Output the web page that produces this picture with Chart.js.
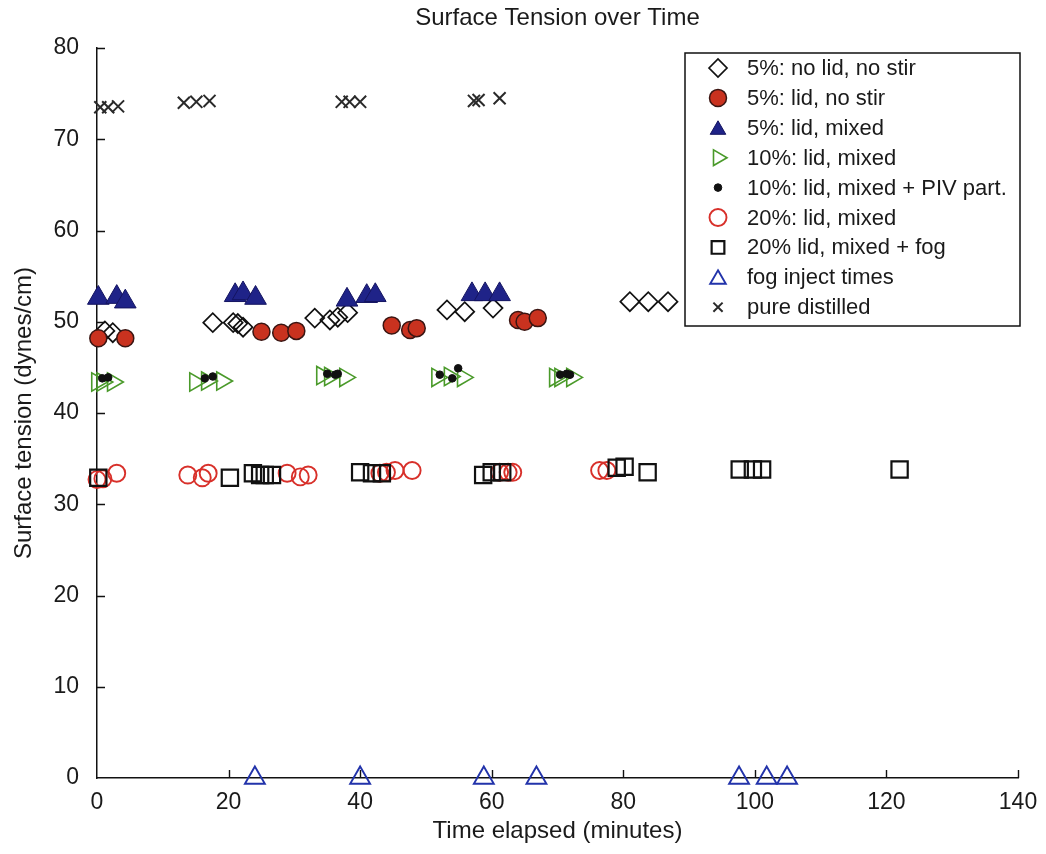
<!DOCTYPE html>
<html>
<head>
<meta charset="utf-8">
<script src="https://cdn.jsdelivr.net/npm/chart.js@4.4.1/dist/chart.umd.min.js"></script>
<style>
  body { margin: 0; background: #fff; }
  #wrap { width: 1046px; height: 854px; }
</style>
</head>
<body>
<div id="wrap"><canvas id="tensionChart" width="1046" height="854"></canvas></div>
<script>
// series (x = minutes, y = dynes/cm)
const noLidX = [1.2, 2.4, 17.6, 20.7, 21.4, 22.2, 33.1, 35.4, 36.6, 38.1, 53.2, 55.9, 60.2, 81, 83.8, 86.8];
const noLidY = [49.0, 48.8, 49.9, 49.9, 49.8, 49.4, 50.4, 50.2, 50.5, 51.0, 51.3, 51.1, 51.5, 52.2, 52.2, 52.2];

const lidNoStirX = [0.2, 4.3, 25, 28, 30.3, 44.8, 47.6, 48.6, 64, 65, 67];
const lidNoStirY = [48.2, 48.2, 48.9, 48.8, 49.0, 49.6, 49.1, 49.3, 50.2, 50.0, 50.4];

const lidMixed5X = [0.2, 3.0, 4.3, 21, 22.2, 24.1, 38, 41, 42.3, 57, 59, 61.2];
const lidMixed5Y = [52.6, 52.7, 52.2, 52.9, 53.1, 52.6, 52.4, 52.8, 52.9, 53.0, 53.0, 53.0];

const lidMixed10X = [0, 0.8, 2.4, 14.9, 16.7, 19, 34.2, 35.4, 37.7, 51.7, 53.6, 55.6, 69.6, 70.4, 72.2];
const lidMixed10Y = [43.4, 43.4, 43.4, 43.4, 43.5, 43.5, 44.1, 44.0, 43.9, 43.9, 44.0, 43.9, 43.9, 43.9, 43.9];

const pivX = [0.8, 1.7, 16.4, 17.6, 35.0, 36.2, 36.6, 52.1, 54.0, 54.9, 70.4, 71.4, 71.9];
const pivY = [43.8, 43.9, 43.8, 44.0, 44.3, 44.2, 44.3, 44.2, 43.8, 44.9, 44.2, 44.3, 44.2];

const lidMixed20X = [0, 0.9, 3.0, 13.8, 16.0, 16.9, 28.9, 30.9, 32.1, 43.0, 44.0, 45.3, 47.9, 61.2, 62.5, 63.2, 76.4, 77.5];
const lidMixed20Y = [32.7, 32.8, 33.4, 33.2, 32.9, 33.4, 33.4, 33.0, 33.2, 33.4, 33.5, 33.7, 33.7, 33.5, 33.5, 33.5, 33.7, 33.7];

const fogX = [0.2, 20.2, 23.7, 24.8, 25.5, 26.6, 40, 41.8, 43.3, 58.7, 60, 61.6, 79, 80.2, 83.7, 97.7, 99.7, 101.1, 122];
const fogY = [32.9, 32.9, 33.4, 33.2, 33.2, 33.2, 33.5, 33.4, 33.4, 33.2, 33.5, 33.5, 34.0, 34.1, 33.5, 33.8, 33.8, 33.8, 33.8];

const injectX = [24, 40, 58.8, 66.8, 97.6, 101.8, 104.9];
const injectY = [0, 0, 0, 0, 0, 0, 0];

const distilledX = [0.5, 1.7, 3.2, 13.2, 15.1, 17.1, 37.2, 38.4, 40, 57.3, 58, 61.2];
const distilledY = [73.5, 73.5, 73.6, 74.0, 74.1, 74.2, 74.1, 74.1, 74.1, 74.2, 74.3, 74.5];

const seriesLabels = [
    '5%: no lid, no stir',
    '5%: lid, no stir',
    '5%: lid, mixed',
    '10%: lid, mixed',
    '10%: lid, mixed + PIV part.',
    '20%: lid, mixed',
    '20% lid, mixed + fog',
    'fog inject times',
    'pure distilled'
];
const xTicks = [0, 20, 40, 60, 80, 100, 120, 140];
const yTicks = [0, 10, 20, 30, 40, 50, 60, 70, 80];

const FONT = '"Liberation Sans", Arial, Helvetica, sans-serif';

function pts(xs, ys) {
    return xs.map((x, i) => ({x: x, y: ys[i]}));
}

const styles = [
    {pointStyle: 'rectRot', radius: 9.5, rotation: 0, border: '#111', fill: 'rgba(0,0,0,0)', bw: 1.7},
    {pointStyle: 'circle', radius: 8.5, rotation: 0, border: '#3a1512', fill: '#c9321f', bw: 1.5},
    {pointStyle: 'triangle', radius: 12.5, rotation: 0, border: '#141460', fill: '#1f2388', bw: 1},
    {pointStyle: 'triangle', radius: 10.5, rotation: 90, border: '#4a9a2a', fill: 'rgba(0,0,0,0)', bw: 1.6},
    {pointStyle: 'circle', radius: 3.8, rotation: 0, border: '#111', fill: '#111', bw: 1},
    {pointStyle: 'circle', radius: 8.5, rotation: 0, border: '#d8302a', fill: 'rgba(0,0,0,0)', bw: 1.9},
    {pointStyle: 'rect', radius: 11.5, rotation: 0, border: '#111', fill: 'rgba(0,0,0,0)', bw: 2.2},
    {pointStyle: 'triangle', radius: 11.5, rotation: 0, border: '#2233aa', fill: 'rgba(0,0,0,0)', bw: 1.9},
    {pointStyle: 'crossRot', radius: 8.5, rotation: 0, border: '#2a2a2a', fill: '#2a2a2a', bw: 2}
];

const seriesData = [
    pts(noLidX, noLidY),
    pts(lidNoStirX, lidNoStirY),
    pts(lidMixed5X, lidMixed5Y),
    pts(lidMixed10X, lidMixed10Y),
    pts(pivX, pivY),
    pts(lidMixed20X, lidMixed20Y),
    pts(fogX, fogY),
    pts(injectX, injectY),
    pts(distilledX, distilledY)
];

const datasets = seriesData.map((data, i) => ({
    label: seriesLabels[i],
    data: data,
    showLine: false,
    clip: false,
    order: seriesData.length - i, // later series drawn on top, like the original
    pointStyle: styles[i].pointStyle,
    pointRadius: styles[i].radius,
    pointHoverRadius: styles[i].radius,
    pointRotation: styles[i].rotation,
    pointBorderColor: styles[i].border,
    pointBackgroundColor: styles[i].fill,
    pointBorderWidth: styles[i].bw,
    borderColor: styles[i].border,
    backgroundColor: styles[i].fill
}));

// inward tick marks, title and boxed legend drawn on top
const decorations = {
    id: 'decorations',
    afterDraw(chart) {
        const ctx = chart.ctx;
        const xs = chart.scales.x, ys = chart.scales.y;
        const area = chart.chartArea;
        ctx.save();
        ctx.strokeStyle = '#111';
        ctx.lineWidth = 1.4;
        ctx.beginPath();
        yTicks.forEach(v => {
            if (v === 0) return;
            const py = Math.round(ys.getPixelForValue(v)) + 0.5;
            ctx.moveTo(area.left, py);
            ctx.lineTo(area.left + 8, py);
        });
        xTicks.forEach(v => {
            if (v === 0) return;
            const px = Math.round(xs.getPixelForValue(v)) + 0.5;
            ctx.moveTo(px, area.bottom);
            ctx.lineTo(px, area.bottom - 8);
        });
        ctx.stroke();

        // title
        ctx.fillStyle = '#1a1a1a';
        ctx.font = '24px ' + FONT;
        ctx.textAlign = 'center';
        ctx.textBaseline = 'middle';
        ctx.fillText('Surface Tension over Time', (area.left + area.right) / 2, 18);

        // legend box
        const box = {left: 685, top: 53, right: 1020, bottom: 326};
        ctx.fillStyle = '#fff';
        ctx.fillRect(box.left, box.top, box.right - box.left, box.bottom - box.top);
        ctx.strokeStyle = '#111';
        ctx.lineWidth = 1.5;
        ctx.strokeRect(box.left, box.top, box.right - box.left, box.bottom - box.top);

        const rowH = 29.9;
        ctx.font = '22px ' + FONT;
        ctx.textAlign = 'left';
        seriesLabels.forEach((label, i) => {
            const cy = 68 + i * rowH;
            const meta = chart.getDatasetMeta(i);
            const el = meta.data[0];
            if (el) {
                const o = el.options;
                let r = Math.min(o.radius, 9);
                if (o.pointStyle === 'crossRot') r = 6.5;
                ctx.save();
                ctx.strokeStyle = o.borderColor;
                ctx.fillStyle = o.backgroundColor;
                ctx.lineWidth = o.borderWidth;
                Chart.helpers.drawPoint(ctx, {
                    pointStyle: o.pointStyle,
                    radius: r,
                    rotation: o.rotation,
                    borderWidth: o.borderWidth
                }, 718, cy + (o.pointStyle === 'triangle' && o.rotation === 0 ? 2 : 0));
                ctx.restore();
            }
            ctx.fillStyle = '#1a1a1a';
            ctx.fillText(label, 747, cy + 1);
        });
        ctx.restore();
    }
};

const ctx = document.getElementById('tensionChart').getContext('2d');
const tensionChart = new Chart(ctx, {
    type: 'scatter',
    data: {datasets: datasets},
    options: {
        responsive: false,
        animation: false,
        events: [],
        layout: {padding: {top: 48, right: 28, left: 0, bottom: 0}},
        plugins: {
            legend: {display: false},
            tooltip: {enabled: false},
            title: {display: false}
        },
        scales: {
            x: {
                type: 'linear',
                min: 0,
                max: 140,
                afterFit: s => { s.height = 76; },
                afterBuildTicks: s => { s.ticks = xTicks.map(v => ({value: v})); },
                grid: {display: false},
                border: {display: true, color: '#111', width: 1.5},
                ticks: {color: '#1a1a1a', font: {family: FONT, size: 23}, padding: 3, maxRotation: 0},
                title: {
                    display: true,
                    text: 'Time elapsed (minutes)',
                    color: '#1a1a1a',
                    font: {family: FONT, size: 24},
                    padding: {top: 0, bottom: 8}
                }
            },
            y: {
                type: 'linear',
                min: 0,
                max: 80,
                afterFit: s => { s.width = 97; },
                afterBuildTicks: s => { s.ticks = yTicks.map(v => ({value: v})); },
                grid: {display: false},
                border: {display: true, color: '#111', width: 1.5},
                ticks: {color: '#1a1a1a', font: {family: FONT, size: 23}, padding: 10},
                title: {
                    display: true,
                    text: 'Surface tension (dynes/cm)',
                    color: '#1a1a1a',
                    font: {family: FONT, size: 24},
                    padding: {top: 10, bottom: 0}
                }
            }
        }
    },
    plugins: [decorations]
});
</script>
</body>
</html>
